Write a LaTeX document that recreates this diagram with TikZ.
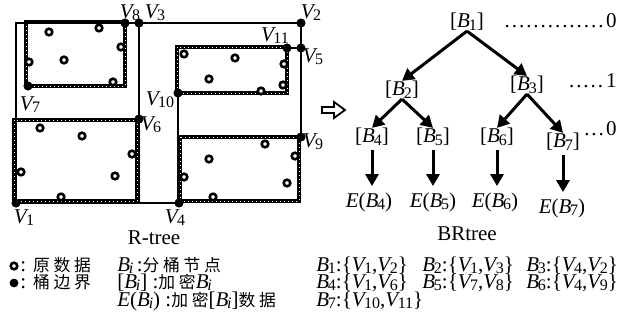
\documentclass[tikz,border=0pt]{standalone}
\usepackage{fontspec}
\setmainfont{Liberation Serif}
\newfontfamily\cjk[LetterSpace=22]{Noto Sans CJK SC}
\usetikzlibrary{arrows.meta,positioning}
\newcommand\zh[1]{{\cjk\fontsize{8.4}{10}\selectfont #1}}
\newcommand\Bx[1]{\textit{B}\kern-.06em{\footnotesize\raisebox{-.3ex}{#1}}}
\newcommand\Vx[1]{\textit{V}\kern-.12em{\footnotesize\raisebox{-.3ex}{#1}}}
\newcommand\lvdots[1]{\hbox to #1{\cleaders\hbox to 3.6pt{\hss.\hss}\hfill}}
\tikzset{
  rtSolid/.style={draw=black,line width=1pt},
  rtBucket/.style={draw=black,line width=1.8pt,
    postaction={draw=white,line width=0.4pt,dash pattern=on 0.5pt off 1.5pt}},
  rtVertex/.style={circle,fill=black,inner sep=0pt,minimum size=4.4pt},
  rtPoint/.style={circle,draw=black,line width=1.3pt,fill=white,
    inner sep=0pt,minimum size=3.3pt},
  rtArrow/.style={-{Triangle[length=6pt,width=6.5pt]},line width=1.5pt},
  rtText/.style={font=\fontsize{10.5}{12}\selectfont,inner sep=0pt}
}

\begin{document}
\begin{tikzpicture}[x=0.5pt,y=-0.5pt]
\path[use as bounding box] (0,0) rectangle (632,326);
% buckets (dashed)
\draw[rtBucket] (26,22) rectangle (125,86);
\draw[rtBucket] (14,120) rectangle (137,201);
\draw[rtBucket] (177,47) rectangle (287,93);
\draw[rtBucket] (180,137) rectangle (299,201);
% vertices
\foreach \n/\px/\py in {1/16/203,2/301/23,3/139/23,4/179/203,5/301/48,6/139/119,
  7/28/86,8/125/23,9/301/137,10/178/93,11/287/48}
  \node[rtVertex] (v\n) at (\px,\py) {};
% solid boundaries
\draw[rtSolid] (v1.center) |- (v2.center) -- (v9.center);
\draw[rtSolid] (v1.center) -- (v4.center);
\draw[rtSolid] (v3.center) -- (v3.center |- v1.center);
\draw[rtSolid] (v10.center) -- (v10.center |- v4.center);
\draw[rtSolid] (v11.center) -- (v5.center);
% data points
\foreach \px/\py [count=\k] in {49/32,99/28,121/47,29/62,64/60,113/82,
  40/128,82/136,132/154,21/172,115/176,61/197,
  184/54,235/58,284/64,209/79,261/91,283/85,
  265/144,209/159,295/156,184/177,287/183,213/197}
  \node[rtPoint] (p\k) at (\px,\py) {};
% redraw vertices on top
\foreach \n in {1,...,11} \fill (v\n) circle (2.2pt);
% vertex labels
\node[rtText] (l1) at (24,218) {\Vx{1}};
\node[rtText] (l2) at (311,13) {\Vx{2}};
\node[rtText] (l3) at (155,13) {\Vx{3}};
\node[rtText] (l4) at (175,218) {\Vx{4}};
\node[rtText] (l5) at (313,57) {\Vx{5}};
\node[rtText] (l6) at (151,125) {\Vx{6}};
\node[rtText] (l7) at (30,105) {\Vx{7}};
\node[rtText] (l8) at (130,13) {\Vx{8}};
\node[rtText] (l9) at (313,142) {\Vx{9}};
\node[rtText] (l10) at (160,100) {\Vx{10}};
\node[rtText] (l11) at (275,36) {\Vx{11}};
\node[rtText] (rcap) at (154,238) {R-tree};
% conversion arrow
\draw[line width=0.9pt,line join=miter] (322,107) -- (334,107) -- (334,102) -- (345,110)
  -- (334,118) -- (334,113) -- (322,113) -- cycle;
% BRtree
\node[rtText] (b1) at (467,22) {[\Bx{1}]};
\node[rtText] (b2) at (402,90) {[\Bx{2}]};
\node[rtText] (b3) at (527,85) {[\Bx{3}]};
\node[rtText] (b4) at (372,137) {[\Bx{4}]};
\node[rtText] (b5) at (433,137) {[\Bx{5}]};
\node[rtText] (b6) at (497,137) {[\Bx{6}]};
\node[rtText] (b7) at (563,142) {[\Bx{7}]};
\foreach \k/\px/\py in {4/369/202,5/433/202,6/495/202,7/562/208}
  \node[rtText] (e\k) at (\px,\py) {\textit{E}(\Bx{\k})};
\draw[rtArrow] (b1.south) -- (b2.north);
\draw[rtArrow] (b1.south) -- (b3.north);
\draw[rtArrow] (b2.south) -- (b4.north);
\draw[rtArrow] (b2.south) -- (b5.north);
\draw[rtArrow] (b3.south) -- (b6.north);
\draw[rtArrow] (b3.south) -- (b7.north);
\foreach \k in {4,...,7}
  \draw[rtArrow,shorten <=2pt,shorten >=3pt] (b\k.south) -- (b\k.south |- e\k.north);
\node[rtText,anchor=east] (lv0) at (617,21) {\lvdots{52pt}0};
\node[rtText,anchor=east] (lv1) at (617,81) {\lvdots{20pt}1};
\node[rtText,anchor=east] (lv2) at (617,129) {\lvdots{12pt}0};
\node[rtText] (bcap) at (467,234) {BRtree};
% legend
\node[rtPoint] (lgp) at (14,266) {};
\node[rtText,anchor=base west] (lgpt) at (20,271) {: \zh{原数据}};
\node[rtVertex] (lgv) at (14,283) {};
\node[rtText,anchor=base west] (lgvt) at (20,288) {: \zh{桶边界}};
\node[rtText,anchor=base west] (lgb) at (117,271) {\Bx{\textit{i}}\,:\zh{分桶节点}};
\node[rtText,anchor=base west] (lgc) at (117,288) {[\Bx{\textit{i}}] :\zh{加密}\Bx{\textit{i}}};
\node[rtText,anchor=base west] (lge) at (117,306) {\textit{E}(\Bx{\textit{i}}) :\zh{加密}[\Bx{\textit{i}}]\zh{数据}};
\node[rtText,anchor=base west] (m1) at (316,271) {\Bx{1}:\{\Vx{1},\Vx{2}\}};
\node[rtText,anchor=base west] (m2) at (422,271) {\Bx{2}:\{\Vx{1},\Vx{3}\}};
\node[rtText,anchor=base west] (m3) at (526,271) {\Bx{3}:\{\Vx{4},\Vx{2}\}};
\node[rtText,anchor=base west] (m4) at (316,288) {\Bx{4}:\{\Vx{1},\Vx{6}\}};
\node[rtText,anchor=base west] (m5) at (422,288) {\Bx{5}:\{\Vx{7},\Vx{8}\}};
\node[rtText,anchor=base west] (m6) at (526,288) {\Bx{6}:\{\Vx{4},\Vx{9}\}};
\node[rtText,anchor=base west] (m7) at (316,306) {\Bx{7}:\{\Vx{10},\Vx{11}\}};
\end{tikzpicture}
\end{document}
